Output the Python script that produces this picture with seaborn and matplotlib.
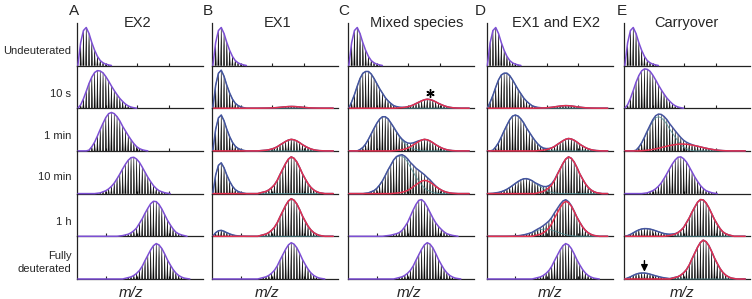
import numpy as np
import pandas as pd
import matplotlib.pyplot as plt
import seaborn as sns
from matplotlib.collections import PolyCollection

# ===============================
# Labels
# ===============================
letters = ["A", "B", "C", "D", "E"]
titles = ["EX2", "EX1", "Mixed species", "EX1 and EX2", "Carryover"]
row_labels = ["Undeuterated", "10 s", "1 min", "10 min", "1 h", ["Fully", "deuterated"]]

# ===============================
# Isotope envelope shapes (relative peak heights, peak by peak)
# ===============================
undeut = [0.6, 0.92, 1.0, 0.84, 0.6, 0.4, 0.24, 0.13, 0.07, 0.035, 0.015]
ex2_10s = [0.09, 0.25, 0.45, 0.66, 0.83, 0.95, 1.0, 0.99, 0.94, 0.84, 0.72, 0.59,
           0.47, 0.36, 0.26, 0.18, 0.11, 0.06, 0.03, 0.012]
ex2_1min = [0.02, 0.11, 0.23, 0.39, 0.56, 0.72, 0.87, 0.97, 1.0, 0.97, 0.89, 0.78,
            0.64, 0.52, 0.4, 0.29, 0.19, 0.11, 0.06, 0.03, 0.012]
ex2_10min = [0.01, 0.02, 0.05, 0.08, 0.13, 0.2, 0.29, 0.41, 0.54, 0.68, 0.81, 0.92,
             0.99, 1.0, 0.95, 0.86, 0.73, 0.59, 0.45, 0.33, 0.22, 0.14, 0.08, 0.05,
             0.025, 0.01]
ex2_1h = [0.01, 0.02, 0.04, 0.06, 0.1, 0.16, 0.24, 0.37, 0.5, 0.66, 0.8, 0.93, 1.0,
          0.99, 0.91, 0.78, 0.62, 0.46, 0.33, 0.21, 0.12, 0.07, 0.04, 0.02]
fully = [0.02, 0.04, 0.06, 0.1, 0.16, 0.24, 0.36, 0.52, 0.67, 0.82, 0.94, 1.0, 0.96,
         0.86, 0.71, 0.54, 0.4, 0.27, 0.17, 0.1, 0.055, 0.025, 0.012]
mix_10s = [0.17, 0.37, 0.6, 0.81, 0.95, 1.0, 1.0, 0.93, 0.81, 0.67, 0.53, 0.41, 0.29,
           0.2, 0.13, 0.07, 0.04, 0.02, 0.01]
mix_1min = [0.04, 0.1, 0.2, 0.34, 0.5, 0.66, 0.81, 0.93, 1.0, 1.0, 0.94, 0.82, 0.69,
            0.55, 0.42, 0.31, 0.22, 0.15, 0.1, 0.06, 0.04, 0.02]
mix_10min = [0.01, 0.02, 0.05, 0.08, 0.14, 0.23, 0.34, 0.48, 0.63, 0.76, 0.89, 0.97,
             1.0, 1.0, 0.94, 0.84, 0.7, 0.57, 0.44, 0.33, 0.23, 0.15, 0.09, 0.06,
             0.03, 0.015]
mix_1h = [0.01, 0.02, 0.03, 0.05, 0.07, 0.1, 0.16, 0.26, 0.38, 0.55, 0.72, 0.87, 0.98,
          1.0, 0.93, 0.8, 0.65, 0.5, 0.37, 0.27, 0.19, 0.12, 0.07, 0.045, 0.025, 0.012]
carry_broad = [0.03, 0.06, 0.1, 0.15, 0.22, 0.3, 0.39, 0.49, 0.59, 0.69, 0.78, 0.86,
               0.93, 0.98, 1.0, 1.0, 0.97, 0.92, 0.85, 0.77, 0.68, 0.58, 0.48, 0.39,
               0.3, 0.23, 0.16, 0.11, 0.07, 0.04, 0.02, 0.01]

shapes = {"undeut": undeut, "ex2_10s": ex2_10s, "ex2_1min": ex2_1min,
          "ex2_10min": ex2_10min, "ex2_1h": ex2_1h, "fully": fully,
          "mix_10s": mix_10s, "mix_1min": mix_1min, "mix_10min": mix_10min,
          "mix_1h": mix_1h, "carry_broad": carry_broad}

# ===============================
# Panels: (shape, index of first peak, height), low-mass population first
# ===============================
ex2 = [[("undeut", 0, 0.89)],
       [("ex2_10s", 0, 0.88)],
       [("ex2_1min", 3, 0.90)],
       [("ex2_10min", 6, 0.85)],
       [("ex2_1h", 14, 0.82)],
       [("fully", 16, 0.83)]]
ex1 = [[("undeut", 0, 0.89)],
       [("undeut", 0, 0.89), ("fully", 16, 0.04)],
       [("undeut", 0, 0.84), ("fully", 16, 0.27)],
       [("undeut", 0, 0.72), ("fully", 16, 0.86)],
       [("undeut", 0, 0.14), ("fully", 16, 0.88)],
       [("fully", 16, 0.85)]]
mixed = [[("undeut", 0, 0.89)],
         [("mix_10s", 0, 0.86), ("fully", 16, 0.21)],
         [("mix_1min", 3, 0.80), ("fully", 15, 0.27)],
         [("mix_10min", 5, 0.88), ("fully", 15, 0.31)],
         [("mix_1h", 12, 0.86)],
         [("fully", 16, 0.85)]]
ex1_ex2 = [[("undeut", 0, 0.89)],
           [("mix_10s", 0, 0.82), ("fully", 16, 0.06)],
           [("ex2_1min", 1, 0.84), ("fully", 17, 0.29)],
           [("ex2_10min", 0, 0.35), ("fully", 17, 0.86)],
           [("ex2_10min", 7, 0.17), ("fully", 16, 0.82)],
           [("fully", 16, 0.83)]]
carryover = [[("undeut", 0, 0.89)],
             [("ex2_10s", 0, 0.92)],
             [("ex2_1min", 3, 0.80), ("carry_broad", 5, 0.16)],
             [("ex2_10min", 6, 0.86)],
             [("ex2_10s", 0, 0.18), ("ex2_1h", 14, 0.86)],
             [("mix_10s", 0, 0.14), ("fully", 16, 0.91)]]
columns = [ex2, ex1, mixed, ex1_ex2, carryover]

# ===============================
# Layout (pixels)
# ===============================
W, H = 752, 299
col_left = [77, 212, 348, 486.5, 624]
col_width = 126
row_base = [65.5, 108.2, 150.9, 193.6, 236.3, 279.0]
row_h = 42.7
step = 2.8           # pixels between isotope peaks
first_peak = 1.3     # position of first isotope peak
xmax = col_width / step

purple, blue, red, teal = "#7d4fd4", "#46549f", "#e2304f", "#4f8f96"

sns.set_style("ticks")
plt.rcParams["font.family"] = ["Liberation Sans", "DejaVu Sans"]

fig = plt.figure(figsize=(W / 100, H / 100), dpi=100)


def fig_text(x, y, s, **kw):
    fig.text(x / W, 1 - y / H, s, **kw)


axes = {}
for c, column in enumerate(columns):
    for r, panel in enumerate(column):
        ax = fig.add_axes([col_left[c] / W, 1 - row_base[r] / H, col_width / W, row_h / H])
        axes[(c, r)] = ax
        two = len(panel) > 1
        kmin = -1
        kmax = 42 if two else max(s + len(shapes[n]) for n, s, _ in panel)
        ks = np.arange(kmin, kmax + 1)
        comps = []
        for name, start, amp in panel:
            y = np.zeros(len(ks))
            vals = np.array(shapes[name]) * amp
            y[start - kmin:start - kmin + len(vals)] = vals
            comps.append(y)
        df = pd.DataFrame({"u": ks + first_peak, "total": np.sum(comps, axis=0)})

        # isotope peaks
        tris = [[(u - 0.22, 0), (u, h), (u + 0.22, 0)]
                for u, h in zip(df["u"], df["total"]) if h > 0.004]
        ax.add_collection(PolyCollection(tris, facecolors="black", edgecolors="#111111",
                                         linewidths=0.35, zorder=2))

        # fitted envelopes
        if two:
            df["low"], df["high"] = comps
            sns.lineplot(data=df, x="u", y="low", ax=ax, color=teal, lw=0.7, alpha=0.8,
                         estimator=None, sort=False, zorder=3, clip_on=False)
            sns.lineplot(data=df, x="u", y="total", ax=ax, color=blue, lw=1.1,
                         estimator=None, sort=False, zorder=4, clip_on=False)
            sns.lineplot(data=df, x="u", y="high", ax=ax, color=red, lw=1.1,
                         estimator=None, sort=False, zorder=5, clip_on=False)
        else:
            sns.lineplot(data=df, x="u", y="total", ax=ax, color=purple, lw=1.1,
                         estimator=None, sort=False, zorder=4, clip_on=False)

        ax.set_xlim(0, xmax)
        ax.set_ylim(0, 1)
        ax.set_xlabel("")
        ax.set_ylabel("")
        ax.set_xticks([10.3, 21.5, 32.7])
        ax.set_xticklabels([])
        ax.set_yticks([])
        ax.tick_params(axis="x", direction="in", length=2.5, width=0.8, color="#222222")
        sns.despine(ax=ax)
        for side in ["left", "bottom"]:
            ax.spines[side].set_color("#222222")
            ax.spines[side].set_linewidth(0.9)
        ax.patch.set_alpha(0)

# star over the second population (C, 10 s)
axes[(2, 1)].plot(29.3, 0.36, marker=(6, 2, 0), ms=6, color="black", mew=1.0,
                  clip_on=False, zorder=6)
# arrow to carryover population (E, fully deuterated)
axes[(4, 5)].annotate("", xy=(7.3, 0.17), xytext=(7.3, 0.43),
                      arrowprops=dict(arrowstyle="-|>,head_width=0.2,head_length=0.4",
                                      color="black", lw=1.0, shrinkA=0, shrinkB=0),
                      annotation_clip=False)

# ===============================
# Text
# ===============================
letter_x = [74, 208, 344, 480, 622]
title_x = [137.5, 278, 417, 556, 686]
mz_x = [130.6, 267.4, 408.6, 549.8, 682.2]
for c in range(5):
    fig_text(letter_x[c], 15, letters[c], ha="center", va="baseline", fontsize=11)
    fig_text(title_x[c], 27.3, titles[c], ha="center", va="baseline", fontsize=10.5)
    fig_text(mz_x[c], 297, "m/z", ha="center", va="baseline", fontsize=11, style="italic")

label_base = [54, 97, 139, 180, 225]
for r in range(5):
    fig_text(71.5, label_base[r], row_labels[r], ha="right", va="baseline", fontsize=8)
fig_text(71.5, 259, row_labels[5][0], ha="right", va="baseline", fontsize=8)
fig_text(71.5, 272, row_labels[5][1], ha="right", va="baseline", fontsize=8)

fig.savefig("out.png", dpi=100)
